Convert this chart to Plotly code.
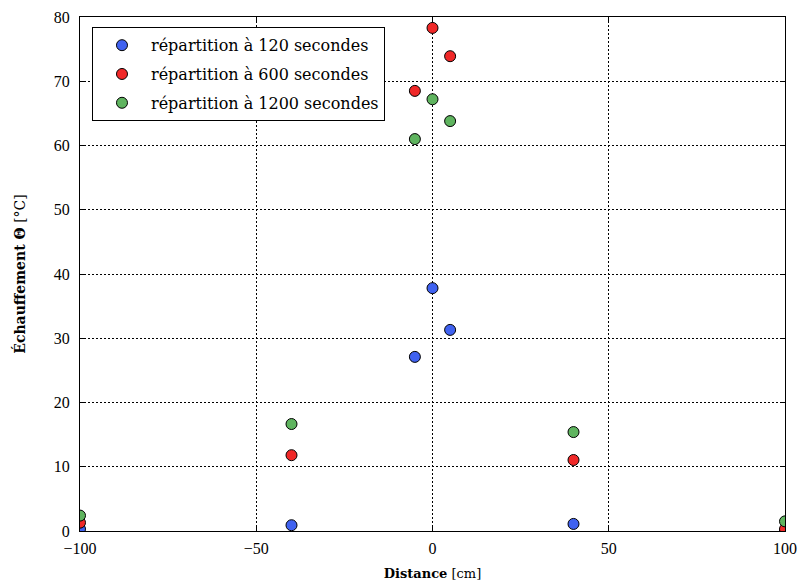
import plotly.graph_objects as go

distance = [-100, -40, -5, 0, 5, 40, 100]
t120 = [0.3, 0.9, 27.1, 37.8, 31.3, 1.1, 0.0]
t600 = [1.3, 11.8, 68.5, 78.3, 73.9, 11.05, 0.3]
t1200 = [2.4, 16.65, 61.0, 67.2, 63.8, 15.4, 1.5]

series = [
    ("répartition à 120 secondes", t120, "#4062f0"),
    ("répartition à 600 secondes", t600, "#f02828"),
    ("répartition à 1200 secondes", t1200, "#5fb45f"),
]

xticks = [-100, -50, 0, 50, 100]
xticktext = ["−100", "−50", "0", "50", "100"]
yticks = [0, 10, 20, 30, 40, 50, 60, 70, 80]

fig = go.Figure()
for i, (name, vals, col) in enumerate(series):
    fig.add_trace(go.Scatter(
        x=distance, y=vals, mode="markers", name=name, legendgroup=f"g{i}",
        marker=dict(size=11, color=col, line=dict(color="black", width=1)),
        cliponaxis=True,
    ))

tick_font = dict(family="Liberation Serif", size=16, color="black")
axis_common = dict(
    showline=True, linecolor="black", linewidth=1, mirror="allticks",
    ticks="inside", ticklen=5, tickcolor="black",
    showgrid=True, gridcolor="black", griddash="2px,2px", gridwidth=1,
    zeroline=False, automargin=False, tickfont=tick_font,
    ticklabeloverflow="allow",
)

fig.update_layout(
    width=799, height=581,
    margin=dict(l=80, r=14, t=17, b=50),
    paper_bgcolor="white", plot_bgcolor="white",
    font=dict(family="Liberation Serif", size=16, color="black"),
    showlegend=True,
    legend=dict(
        x=0.017, y=0.98, xanchor="left", yanchor="top",
        bordercolor="black", borderwidth=1, bgcolor="white",
        font=dict(family="DejaVu Serif", size=16, color="black"),
        itemwidth=48, tracegroupgap=5,
    ),
    xaxis=dict(
        range=[-100.001, 100.001], tickvals=xticks, ticktext=xticktext,
        ticklabelstandoff=3,
        title=dict(text="<b>Distance</b> [cm]",
                   font=dict(family="DejaVu Serif", size=13, color="black"), standoff=12),
        **axis_common,
    ),
    yaxis=dict(
        range=[0, 80], tickvals=yticks, ticklabelstandoff=6,
        title=dict(text="<b>Échauffement Θ</b> [°C]",
                   font=dict(family="DejaVu Serif", size=14, color="black"), standoff=24),
        **axis_common,
    ),
)

fig.write_html("out.html", config={"displayModeBar": False},
               post_script="document.body.style.margin='0';")
